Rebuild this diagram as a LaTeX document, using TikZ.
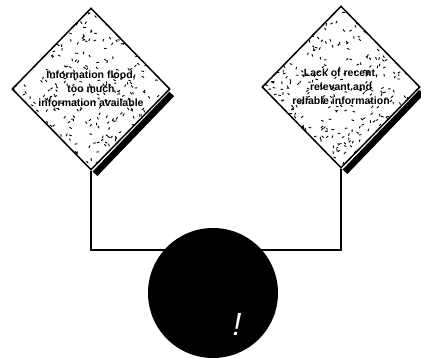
\documentclass[tikz,border=0pt]{standalone}
\usepackage{fontspec}
\setmainfont{Liberation Sans}
\usetikzlibrary{shapes.geometric,calc}
\begin{document}
\begin{tikzpicture}[x=1pt,y=-1pt,
  speck/.style={path picture={
    \begin{scope}[shift={(path picture bounding box.center)}]
      \pgfmathsetseed{#1}
      \foreach \i in {1,...,480}{
        \pgfmathsetmacro\px{rand*82}
        \pgfmathsetmacro\py{rand*82}
        \pgfmathsetmacro\ang{rnd*360}
        \draw[line width=0.9pt] (\px,\py) -- ++(\ang:2.6);
      }
    \end{scope}}},
  sign/.style={diamond, draw, line width=1.5pt, fill=white,
    minimum width=158pt, minimum height=162pt, inner sep=0pt,
    font=\fontsize{10.5}{14}\selectfont\bfseries, align=center},
  shadowline/.style={line width=6.5pt, line cap=butt},
  conn/.style={line width=1.5pt},
  circ/.style={circle, fill=black, minimum size=130pt, inner sep=0pt},
  bang/.style={text=white, inner sep=0pt, font=\fontsize{32}{32}\selectfont\itshape}
]
\useasboundingbox (0,0) rectangle (421,357);

\node[sign, speck=7] (d1) at (91,89) {Information flood,\\too much\\information available};
\node[sign, speck=23] (d2) at (341,87) {Lack of recent,\\relevant and\\reliable information};

\draw[shadowline] ($(d1.east)+(1,5)$) -- ($(d1.south)+(4,3)$);
\draw[shadowline] ($(d2.east)+(1,5)$) -- ($(d2.south)+(4,3)$);

\coordinate (j) at (213,250);
\draw[conn] (d1.south) -- (d1.south |- j) -- (d2.south |- j) -- (d2.south);

\node[circ] (c) at (213,293) {};
\node[bang] (ex) at ($(c.center)+(24,31)$) {!};
\end{tikzpicture}
\end{document}
